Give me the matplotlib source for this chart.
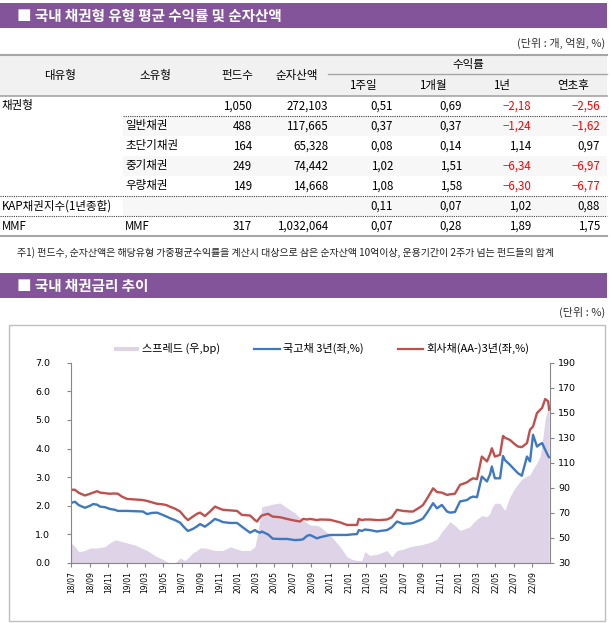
import matplotlib
matplotlib.use('Agg')
import matplotlib.pyplot as plt
from matplotlib.patches import Rectangle
import matplotlib.ticker as mticker
import pandas as pd
import numpy as np

plt.rcParams['font.family'] = ['Noto Sans CJK KR', 'DejaVu Sans']

# ---------------- table data ----------------
major_type = ['채권형', '', '', '', '', 'KAP채권지수(1년종합)', 'MMF']
sub_type = ['', '일반채권', '초단기채권', '중기채권', '우량채권', '', 'MMF']
fund_count = ['1,050', '488', '164', '249', '149', '', '317']
net_assets = ['272,103', '117,665', '65,328', '74,442', '14,668', '', '1,032,064']
ret_1w = [0.51, 0.37, 0.08, 1.02, 1.08, 0.11, 0.07]
ret_1m = [0.69, 0.37, 0.14, 1.51, 1.58, 0.07, 0.28]
ret_1y = [-2.18, -1.24, 1.14, -6.34, -6.30, 1.02, 1.89]
ret_ytd = [-2.56, -1.62, 0.97, -6.97, -6.77, 0.88, 1.75]

# ---------------- chart data ----------------
dates = ['2018-07-01', '2018-07-14', '2018-07-27', '2018-08-16', '2018-09-02', '2018-09-12',
         '2018-09-25', '2018-10-05', '2018-10-21', '2018-11-06', '2018-11-23', '2018-12-03',
         '2018-12-16', '2019-01-02', '2019-01-28', '2019-02-23', '2019-03-09', '2019-03-25',
         '2019-04-11', '2019-04-30', '2019-05-13', '2019-05-23', '2019-06-09', '2019-06-26',
         '2019-07-12', '2019-07-22', '2019-08-07', '2019-08-21', '2019-08-31', '2019-09-16',
         '2019-10-03', '2019-10-19', '2019-11-04', '2019-11-14', '2019-12-08', '2019-12-31',
         '2020-01-16', '2020-02-12', '2020-02-28', '2020-03-06', '2020-03-16', '2020-03-22',
         '2020-04-11', '2020-04-27', '2020-05-21', '2020-06-13', '2020-07-09', '2020-07-26',
         '2020-08-05', '2020-08-18', '2020-08-28', '2020-09-20', '2020-09-30', '2020-11-02',
         '2020-12-05', '2020-12-28', '2021-01-13', '2021-01-30', '2021-02-05', '2021-02-15',
         '2021-02-25', '2021-03-14', '2021-04-06', '2021-04-16', '2021-05-09', '2021-05-25',
         '2021-06-11', '2021-07-01', '2021-07-24', '2021-08-03', '2021-08-26', '2021-09-05',
         '2021-09-21', '2021-10-08', '2021-10-21', '2021-11-06', '2021-11-23', '2021-12-03',
         '2021-12-19', '2022-01-05', '2022-01-28', '2022-02-07', '2022-02-17', '2022-03-02',
         '2022-03-18', '2022-04-04', '2022-04-14', '2022-04-20', '2022-04-30', '2022-05-17',
         '2022-05-27', '2022-06-02', '2022-06-19', '2022-07-05', '2022-07-15', '2022-07-28',
         '2022-08-14', '2022-08-24', '2022-09-03', '2022-09-16', '2022-09-26', '2022-10-03',
         '2022-10-13', '2022-10-23', '2022-10-26']
gov3y = [2.10, 2.14, 2.02, 1.93, 2.00, 2.06, 2.04, 1.97, 1.95, 1.89, 1.86, 1.82,
         1.82, 1.82, 1.81, 1.80, 1.71, 1.75, 1.76, 1.68, 1.62, 1.57, 1.50, 1.41,
         1.22, 1.12, 1.19, 1.28, 1.36, 1.27, 1.40, 1.54, 1.48, 1.43, 1.40, 1.40,
         1.27, 1.06, 1.15, 1.10, 1.06, 1.10, 1.00, 0.85, 0.84, 0.84, 0.80, 0.81,
         0.83, 0.95, 0.98, 0.86, 0.90, 0.98, 0.98, 0.98, 1.00, 1.01, 1.15, 1.12,
         1.17, 1.15, 1.10, 1.12, 1.15, 1.25, 1.45, 1.37, 1.38, 1.40, 1.50, 1.56,
         1.80, 2.09, 1.91, 2.03, 1.80, 1.76, 1.78, 2.15, 2.20, 2.28, 2.32, 2.30,
         3.02, 2.85, 3.10, 3.37, 2.96, 2.96, 3.74, 3.60, 3.43, 3.25, 3.14, 3.05,
         3.72, 3.55, 4.48, 4.07, 4.15, 4.19, 3.96, 3.74, 3.70]
corp3y = [2.56, 2.56, 2.45, 2.36, 2.42, 2.46, 2.51, 2.46, 2.44, 2.42, 2.43, 2.42,
          2.32, 2.24, 2.22, 2.20, 2.17, 2.12, 2.07, 2.05, 2.02, 1.97, 1.90, 1.80,
          1.60, 1.50, 1.62, 1.72, 1.76, 1.64, 1.80, 1.97, 1.90, 1.86, 1.84, 1.82,
          1.68, 1.66, 1.50, 1.45, 1.60, 1.66, 1.72, 1.62, 1.60, 1.54, 1.48, 1.45,
          1.54, 1.52, 1.54, 1.50, 1.52, 1.51, 1.42, 1.33, 1.33, 1.33, 1.54, 1.50,
          1.52, 1.52, 1.50, 1.50, 1.52, 1.60, 1.86, 1.82, 1.80, 1.80, 1.95, 2.03,
          2.30, 2.61, 2.48, 2.46, 2.38, 2.40, 2.42, 2.73, 2.82, 2.90, 2.96, 2.93,
          3.72, 3.55, 3.80, 4.01, 3.72, 3.78, 4.44, 4.38, 4.30, 4.15, 4.07, 4.05,
          4.19, 4.66, 4.77, 5.24, 5.35, 5.42, 5.73, 5.65, 5.36]
spread_bp = [46, 43, 39, 40, 42, 42, 42, 42.5, 43, 46, 48.4, 48,
             47, 46, 44.4, 41.5, 40, 37.5, 35, 33, 31, 30, 30, 34,
             32, 34, 38, 40, 42, 42, 41, 40, 40, 40, 43, 41,
             40, 40, 43, 51, 65, 75, 76, 77, 78, 74, 70, 66,
             64, 62, 60.4, 60, 59, 52.4, 43, 35, 33, 32, 32, 32,
             39, 36, 37, 37.7, 40, 35, 40, 41, 43, 43.5, 44.4, 45,
             46, 47.5, 49, 55, 60, 63, 60, 56, 58, 59, 62, 65,
             67.8, 67, 69.7, 74, 77.7, 77.7, 74, 72, 83, 89.7, 93, 97,
             99.5, 100.4, 105, 110, 115, 125, 145, 153, 151]
x_tick_dates = pd.date_range('2018-07-01', '2022-09-01', freq='2MS')

# ---------------- figure ----------------
W, H = 611, 623
fig = plt.figure(figsize=(W / 100, H / 100), dpi=100)
bg = fig.add_axes([0, 0, 1, 1])
bg.set_xlim(0, W)
bg.set_ylim(H, 0)
bg.axis('off')

PURPLE = '#84549A'
GRAY = '#A6A6A6'


def title_bar(y0, y1, text):
    bg.add_patch(Rectangle((0, y0), 607, y1 - y0, color=PURPLE, lw=0))
    bg.text(17, (y0 + y1) / 2 + 0.5, '■ ' + text, color='white', fontsize=10.5,
            fontweight='bold', va='center', ha='left')


title_bar(3, 28, '국내 채권형 유형 평균 수익률 및 순자산액')
bg.text(605, 43, '(단위 : 개, 억원, %)', fontsize=8, ha='right', va='center', color='#333333')

# header
bg.add_patch(Rectangle((0, 55), 607, 41, color='#F1F1F1', lw=0))
bg.plot([0, 607], [55, 55], color=GRAY, lw=1.5)
bg.plot([0, 607], [96, 96], color=GRAY, lw=1.2)
bg.plot([328, 607], [74, 74], color=GRAY, lw=1.0)
hfs = 8.3
for txt, xc in [('대유형', 60), ('소유형', 155), ('펀드수', 237), ('순자산액', 297)]:
    bg.text(xc, 75.5, txt, fontsize=hfs, ha='center', va='center')
bg.text(468, 64.5, '수익률', fontsize=hfs, ha='center', va='center')
for txt, xc in [('1주일', 363), ('1개월', 433), ('1년', 502), ('연초후', 573)]:
    bg.text(xc, 85.5, txt, fontsize=hfs, ha='center', va='center')

# rows
row_h = 20
y_top = 96
shaded = [1, 3, 5]
for i in shaded:
    bg.add_patch(Rectangle((123, y_top + i * row_h), 484, row_h, color='#F7F7F7', lw=0))


def fmt(v):
    s = f'{abs(v):.2f}'.replace('.', ',')
    return ('−' + s) if v < 0 else s


for i in range(len(major_type)):
    yc = y_top + i * row_h + row_h / 2
    bg.text(2, yc, major_type[i], fontsize=hfs, ha='left', va='center')
    bg.text(125, yc, sub_type[i], fontsize=hfs, ha='left', va='center')
    bg.text(252, yc, fund_count[i], fontsize=hfs, ha='right', va='center')
    bg.text(328, yc, net_assets[i], fontsize=hfs, ha='right', va='center')
    for vals, xr in [(ret_1w, 393), (ret_1m, 462), (ret_1y, 531), (ret_ytd, 600)]:
        v = vals[i]
        bg.text(xr, yc, fmt(v), fontsize=hfs, ha='right', va='center',
                color='#FF0000' if v < 0 else 'black')

dot = dict(color='#444444', lw=0.8, linestyle=(0, (1, 1)))
bg.plot([123, 607], [116, 116], **dot)
bg.plot([0, 607], [196, 196], **dot)
bg.plot([0, 607], [216, 216], **dot)
bg.plot([0, 607], [236, 236], color=GRAY, lw=1.5)

bg.text(17, 253, '주1) 펀드수, 순자산액은 해당유형 가중평균수익률을 계산시 대상으로 삼은 순자산액 10억이상, '
        '운용기간이 2주가 넘는 펀드들의 합계', fontsize=7.2, ha='left', va='center', color='#222222')

title_bar(273, 298, '국내 채권금리 추이')
bg.text(605, 312, '(단위 : %)', fontsize=8, ha='right', va='center', color='#333333')

# chart box
bg.add_patch(Rectangle((8.5, 325), 596, 295.5, fill=False, edgecolor='#BFBFBF', lw=1))

BLUE = '#3E78BE'
RED = '#C0504D'
LAV = '#DED3E7'

# legend (manual)
lfs = 8
bg.add_patch(Rectangle((114, 346.5), 25, 4, color=LAV, lw=0))
bg.text(142, 348.5, '스프레드 (우,bp)', fontsize=lfs, ha='left', va='center')
bg.plot([254, 280], [348.5, 348.5], color=BLUE, lw=1.6)
bg.text(283, 348.5, '국고채 3년(좌,%)', fontsize=lfs, ha='left', va='center')
bg.plot([398, 423], [348.5, 348.5], color=RED, lw=1.6)
bg.text(426, 348.5, '회사채(AA-)3년(좌,%)', fontsize=lfs, ha='left', va='center')

# chart axes
x0, x1, ytop, ybot = 71, 550, 362.7, 563
axL = fig.add_axes([x0 / W, (H - ybot) / H, (x1 - x0) / W, (ybot - ytop) / H])
axR = axL.twinx()
axL.set_zorder(axR.get_zorder() + 1)
axL.patch.set_visible(False)
axR.patch.set_visible(False)

d = pd.to_datetime(dates)
axR.fill_between(d, 30, spread_bp, color=LAV, lw=0)
axR.set_ylim(30, 190)
axR.set_yticks(np.arange(30, 191, 20))

axL.plot(d, gov3y, color=BLUE, lw=1.7)
axL.plot(d, corp3y, color=RED, lw=1.7)
axL.set_ylim(0, 7)
axL.set_yticks(np.arange(0, 7.01, 1))
axL.yaxis.set_major_formatter(mticker.FormatStrFormatter('%.1f'))
axL.set_xlim(pd.Timestamp('2018-07-01'), pd.Timestamp('2022-10-29'))
axL.set_xticks(x_tick_dates)
axL.set_xticklabels([t.strftime('%y/%m') for t in x_tick_dates], rotation=90,
                    fontsize=5.5, family='DejaVu Sans')

SP = '#868686'
for ax in (axL, axR):
    ax.spines['top'].set_visible(False)
axL.spines['right'].set_visible(False)
axR.spines['left'].set_visible(False)
axR.spines['bottom'].set_visible(False)
for s in ('left', 'bottom'):
    axL.spines[s].set_color(SP)
axR.spines['right'].set_color(SP)

axL.tick_params(axis='y', direction='out', length=3, pad=12, labelsize=6.8, color=SP)
axL.tick_params(axis='x', direction='out', length=3, pad=3, color=SP)
axR.tick_params(axis='y', direction='out', length=3, pad=3, labelsize=6.8, color=SP)
for lab in axL.get_yticklabels() + axR.get_yticklabels():
    lab.set_family('DejaVu Sans')

fig.savefig('out.png', dpi=100)
